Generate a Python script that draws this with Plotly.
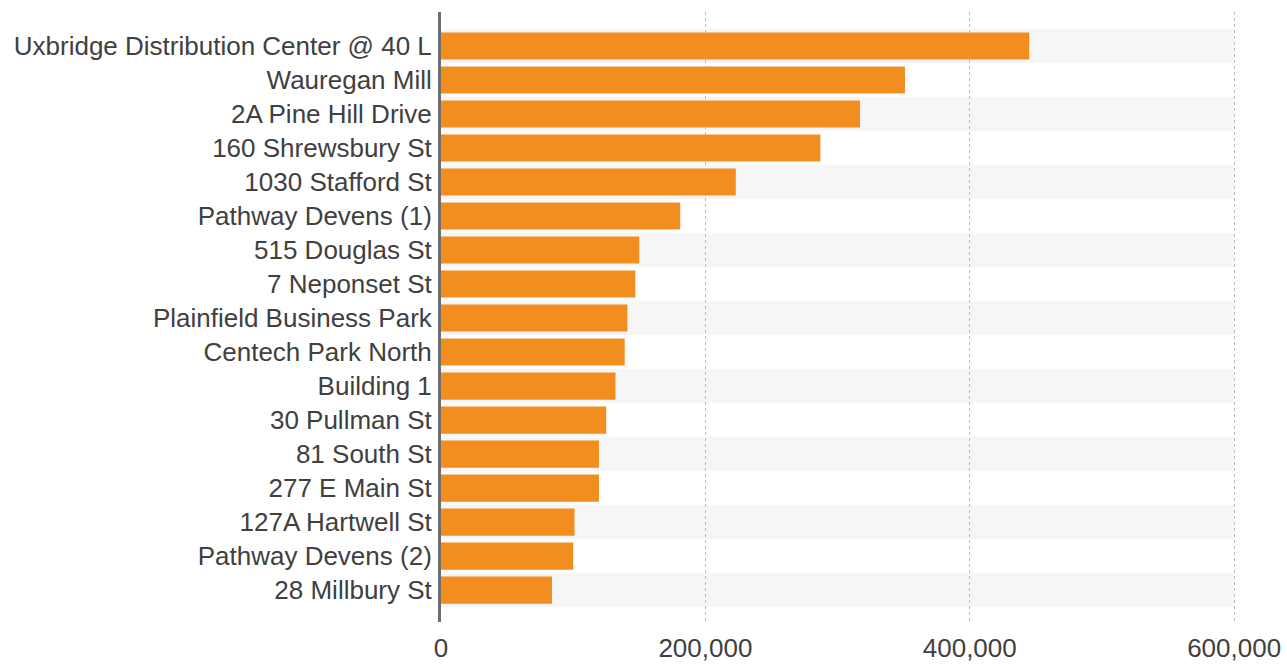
import plotly.graph_objects as go

# Facility names, listed top to bottom
facilities = [
    "Uxbridge Distribution Center @ 40 L",
    "Wauregan Mill",
    "2A Pine Hill Drive",
    "160 Shrewsbury St",
    "1030 Stafford St",
    "Pathway Devens (1)",
    "515 Douglas St",
    "7 Neponset St",
    "Plainfield Business Park",
    "Centech Park North",
    "Building 1",
    "30 Pullman St",
    "81 South St",
    "277 E Main St",
    "127A Hartwell St",
    "Pathway Devens (2)",
    "28 Millbury St",
]

# Square footage per facility
square_feet = [
    445000, 351000, 317000, 287000, 223000, 181000, 150000, 147000,
    141000, 139000, 132000, 125000, 119500, 119500, 101000, 100000, 84000,
]

tick_values = [0, 200000, 400000, 600000]
tick_labels = ["0", "200,000", "400,000", "600,000"]

rows = list(range(len(facilities)))

fig = go.Figure()

fig.add_trace(go.Bar(
    x=square_feet,
    y=rows,
    orientation="h",
    width=0.8,
    marker=dict(color="#F28E1F", line=dict(width=0)),
    hoverinfo="x+text",
    text=facilities,
    textposition="none",
))

# Alternating light row bands behind the bars
for i in rows:
    if i % 2 == 0:
        fig.add_shape(
            type="rect", xref="x", yref="y",
            x0=0, x1=tick_values[-1], y0=i - 0.5, y1=i + 0.5,
            fillcolor="#F6F6F6", line=dict(width=0), layer="below",
        )

fig.update_layout(
    width=1287,
    height=666,
    margin=dict(l=441, r=0, t=12, b=44),
    paper_bgcolor="white",
    plot_bgcolor="white",
    showlegend=False,
    font=dict(family="Liberation Sans, Arial, sans-serif", color="#404040"),
)

fig.update_xaxes(
    range=[0, 640000],
    tickvals=tick_values,
    ticktext=tick_labels,
    tickfont=dict(size=26, color="#404040"),
    showgrid=True,
    gridcolor="#BDBDBD",
    griddash="dot",
    gridwidth=1,
    zeroline=False,
    showline=False,
    ticks="",
    ticklabelstandoff=8,
    automargin=False,
)

fig.update_yaxes(
    range=[16.94, -1],
    tickvals=rows,
    ticktext=facilities,
    tickfont=dict(size=26, color="#404040"),
    showgrid=False,
    zeroline=False,
    showline=True,
    linecolor="#6E6E6E",
    linewidth=3,
    ticks="",
    ticklabelstandoff=1,
    automargin=False,
)

fig.write_html("out.html")
